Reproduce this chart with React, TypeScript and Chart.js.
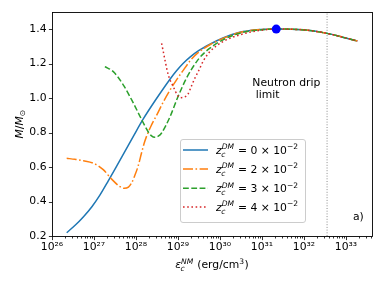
import { useEffect, useRef } from "react";
import { Chart, registerables } from "chart.js";

Chart.register(...registerables);

// ---------- data (log10 of central energy density, M/Msun) ----------
const zValues = ["0", "2", "3", "4"]; // z_c^DM in units of 10^-2
const seriesColors = ["#1f77b4", "#ff7f0e", "#2ca02c", "#d62728"];

const tailLogE = [31.34, 31.66, 32.05, 32.55, 32.92, 33.27];
const tailM = [1.401, 1.4, 1.395, 1.376, 1.354, 1.332];

const z0LogE = [26.35, 26.55, 26.75, 26.95, 27.14, 27.34, 27.54, 27.74, 27.94, 28.17, 28.49, 28.81, 28.97, 29.12, 29.3, 29.5, 29.76, 30.07, 30.47, 30.87, ...tailLogE];
const z0M = [0.219, 0.262, 0.312, 0.37, 0.437, 0.52, 0.606, 0.693, 0.78, 0.878, 0.998, 1.11, 1.16, 1.201, 1.241, 1.277, 1.313, 1.349, 1.382, 1.397, ...tailM];

const z2LogE = [26.35, 26.55, 26.75, 26.99, 27.22, 27.42, 27.62, 27.72, 27.82, 27.9, 27.97, 28.05, 28.13, 28.21, 28.37, 28.49, 28.65, 28.81, 28.97, 29.12, 29.3, 29.5, 29.76, 30.07, 30.47, 30.87, ...tailLogE];
const z2M = [0.651, 0.645, 0.637, 0.622, 0.585, 0.53, 0.486, 0.477, 0.484, 0.51, 0.55, 0.605, 0.68, 0.75, 0.845, 0.9, 0.978, 1.047, 1.108, 1.16, 1.22, 1.268, 1.31, 1.347, 1.381, 1.397, ...tailM];

const z3LogE = [27.26, 27.46, 27.7, 27.94, 28.14, 28.29, 28.37, 28.45, 28.53, 28.61, 28.81, 29.0, 29.2, 29.5, 29.76, 30.07, 30.47, 30.87, ...tailLogE];
const z3M = [1.183, 1.154, 1.076, 0.97, 0.873, 0.805, 0.781, 0.773, 0.779, 0.798, 0.892, 1.008, 1.115, 1.23, 1.29, 1.338, 1.377, 1.394, ...tailM];

const z4LogE = [28.61, 28.65, 28.69, 28.77, 28.89, 29.0, 29.09, 29.17, 29.24, 29.32, 29.4, 29.5, 29.6, 29.76, 30.07, 30.47, 30.87, ...tailLogE];
const z4M = [1.318, 1.27, 1.221, 1.134, 1.066, 1.012, 1.003, 1.008, 1.024, 1.07, 1.115, 1.163, 1.215, 1.27, 1.328, 1.367, 1.39, ...tailM];

const xTickExps = [26, 27, 28, 29, 30, 31, 32, 33];
const yTicks = [0.2, 0.4, 0.6, 0.8, 1.0, 1.2, 1.4];
const xMinExp = 26.0;
const xMaxExp = 33.62;
const yMin = 0.2;
const yMax = 1.5;

const dripLogE = 32.55; // neutron drip energy density
const maxLogE = 31.34; // maximum mass point
const maxM = 1.401;
const noteLogE = 30.77;
const noteM = 1.0;
const noteLines = ["Neutron drip", " limit"];
const panelLabel = "a)";

// ---------- helpers ----------
const FONT = '"DejaVu Sans"';
const FS = 10.8;
const SUP: Record<string, string> = { "0": "⁰", "1": "¹", "2": "²", "3": "³", "4": "⁴", "5": "⁵", "6": "⁶", "7": "⁷", "8": "⁸", "9": "⁹", "-": "⁻" };
const toSup = (s: string) => s.split("").map((c) => SUP[c] ?? c).join("");

type Seg = { t: string; it?: boolean; sup?: string; sub?: string; sit?: boolean };
const fontStr = (size: number, it?: boolean) => `${it ? "italic " : ""}${size}px ${FONT}`;

function rich(ctx: CanvasRenderingContext2D, segs: Seg[], x: number, y: number, size: number, draw: boolean) {
  let cx = x;
  for (const s of segs) {
    ctx.font = fontStr(size, s.it);
    if (draw) ctx.fillText(s.t, cx, y);
    cx += ctx.measureText(s.t).width;
    if (s.sup || s.sub) {
      const ss = size * 0.7;
      ctx.font = fontStr(ss, s.sit);
      let w = 0;
      if (s.sup) {
        if (draw) ctx.fillText(s.sup, cx, y - size * 0.4);
        w = Math.max(w, ctx.measureText(s.sup).width);
      }
      if (s.sub) {
        if (draw) ctx.fillText(s.sub, cx + (s.sit ? -0.5 : 0), y + size * 0.25);
        w = Math.max(w, ctx.measureText(s.sub).width);
      }
      cx += w + 0.5;
    }
  }
  return cx - x;
}

const dashes = [[], [10, 2.5, 1.6, 2.5], [5.8, 2.5], [1.6, 2.6]];

const decorPlugin = {
  id: "decor",
  afterDraw(chart: any) {
    const ctx: CanvasRenderingContext2D = chart.ctx;
    const ca = chart.chartArea;
    const xs = chart.scales.x;
    const ys = chart.scales.y;
    ctx.save();
    // frame
    ctx.strokeStyle = "#000";
    ctx.lineWidth = 0.9;
    ctx.setLineDash([]);
    ctx.strokeRect(Math.round(ca.left) + 0.5, Math.round(ca.top) + 0.5, Math.round(ca.right - ca.left), Math.round(ca.bottom - ca.top));
    // x ticks (major + minor)
    const by = Math.round(ca.bottom) + 0.5;
    ctx.beginPath();
    for (let e = Math.floor(xMinExp); e <= Math.ceil(xMaxExp); e++) {
      for (let k = 1; k <= 9; k++) {
        const lv = e + Math.log10(k);
        if (lv < xMinExp - 1e-9 || lv > xMaxExp) continue;
        const px = Math.round(xs.getPixelForValue(Math.pow(10, lv))) + 0.5;
        ctx.moveTo(px, by);
        ctx.lineTo(px, by + (k === 1 ? 3.6 : 2));
      }
    }
    // y ticks
    const lx = Math.round(ca.left) + 0.5;
    for (const v of yTicks) {
      const py = Math.round(ys.getPixelForValue(v)) + 0.5;
      ctx.moveTo(lx, py);
      ctx.lineTo(lx - 3.6, py);
    }
    ctx.lineWidth = 0.8;
    ctx.stroke();

    ctx.fillStyle = "#000";
    ctx.textBaseline = "alphabetic";
    ctx.textAlign = "left";
    // x axis title
    const xSegs: Seg[] = [{ t: "ε", it: true, sub: "c", sup: "NM", sit: true }, { t: " (erg/cm", sup: "3" }, { t: ")" }];
    const xw = rich(ctx, xSegs, 0, 0, FS, false);
    rich(ctx, xSegs, (ca.left + ca.right) / 2 - xw / 2, ca.bottom + 32, FS, true);
    // y axis title
    const ySegs: Seg[] = [{ t: "M", it: true }, { t: "/" }, { t: "M", it: true, sub: "⊙" }];
    const yw = rich(ctx, ySegs, 0, 0, FS, false);
    ctx.save();
    ctx.translate(22.5, (ca.top + ca.bottom) / 2);
    ctx.rotate(-Math.PI / 2);
    rich(ctx, ySegs, -yw / 2, 0, FS, true);
    ctx.restore();

    // annotation
    ctx.font = fontStr(FS);
    const nx = xs.getPixelForValue(Math.pow(10, noteLogE));
    const ny = ys.getPixelForValue(noteM);
    noteLines.forEach((ln, i) => {
      ctx.fillText(ln, nx, ny - (noteLines.length - 1 - i) * 11.8);
    });
    // panel label
    ctx.fillText(panelLabel, ca.right - 19, ca.bottom - 16.5);

    // legend
    const L = 180.5, T = 139.5, W = 125, H = 83;
    ctx.beginPath();
    ctx.roundRect(L, T, W, H, 2.5);
    ctx.fillStyle = "rgba(255,255,255,0.8)";
    ctx.fill();
    ctx.strokeStyle = "#cccccc";
    ctx.lineWidth = 1;
    ctx.stroke();
    const rows = [150, 169, 188.3, 207];
    zValues.forEach((z, i) => {
      const ry = rows[i];
      ctx.beginPath();
      ctx.setLineDash(dashes[i]);
      ctx.strokeStyle = seriesColors[i];
      ctx.lineWidth = 1.5;
      ctx.moveTo(183, ry);
      ctx.lineTo(208, ry);
      ctx.stroke();
      ctx.setLineDash([]);
      ctx.fillStyle = "#000";
      rich(ctx, [{ t: "z", it: true, sub: "c", sup: "DM", sit: true }, { t: " = " + z + " × 10", sup: "−2" }], 216, ry + 3.8, FS, true);
    });
    ctx.restore();
  },
};

export default function App() {
  const ref = useRef<HTMLCanvasElement | null>(null);
  useEffect(() => {
    if (!ref.current) return;
    const curves = [
      { e: z0LogE, m: z0M },
      { e: z2LogE, m: z2M },
      { e: z3LogE, m: z3M },
      { e: z4LogE, m: z4M },
    ];
    const datasets: any[] = curves.map((c, i) => ({
      type: "line",
      label: `z_c^DM = ${zValues[i]} × 10^-2`,
      data: c.e.map((e, j) => ({ x: Math.pow(10, e), y: c.m[j] })),
      borderColor: seriesColors[i],
      borderWidth: 1.5,
      borderDash: dashes[i],
      pointRadius: 0,
      fill: false,
      cubicInterpolationMode: "monotone",
      order: 4 - i,
    }));
    datasets.push({
      type: "line",
      label: "Neutron drip limit",
      data: [
        { x: Math.pow(10, dripLogE), y: yMin },
        { x: Math.pow(10, dripLogE), y: yMax },
      ],
      borderColor: "#8c8c8c",
      borderWidth: 1,
      borderDash: [1, 1.7],
      pointRadius: 0,
      order: 10,
    });
    datasets.push({
      type: "scatter",
      label: "Maximum mass",
      data: [{ x: Math.pow(10, maxLogE), y: maxM }],
      backgroundColor: "#0000ff",
      borderWidth: 0,
      pointRadius: 4.5,
      order: -1,
    });
    const chart = new Chart(ref.current, {
      type: "line",
      data: { datasets },
      plugins: [decorPlugin],
      options: {
        animation: false,
        responsive: false,
        devicePixelRatio: 1,
        layout: { padding: { top: 12, right: 12, left: 0, bottom: 0 } },
        plugins: { legend: { display: false }, tooltip: { enabled: false } },
        scales: {
          x: {
            type: "logarithmic",
            min: Math.pow(10, xMinExp),
            max: Math.pow(10, xMaxExp),
            grid: { display: false, drawTicks: true, tickLength: 4 },
            border: { display: false },
            afterBuildTicks: (s: any) => {
              s.ticks = xTickExps.map((e) => ({ value: Math.pow(10, e), major: true }));
            },
            afterFit: (s: any) => {
              s.height = 52;
            },
            ticks: {
              autoSkip: false,
              maxRotation: 0,
              padding: 1,
              color: "#000",
              font: { family: "DejaVu Sans", size: FS },
              callback: (v: any) => "10" + toSup(String(Math.round(Math.log10(Number(v))))),
            },
          },
          y: {
            type: "linear",
            min: yMin,
            max: yMax,
            grid: { display: false, drawTicks: true, tickLength: 4 },
            border: { display: false },
            afterBuildTicks: (s: any) => {
              s.ticks = yTicks.map((v) => ({ value: v }));
            },
            afterFit: (s: any) => {
              s.width = 52;
            },
            ticks: {
              padding: 1.5,
              color: "#000",
              font: { family: "DejaVu Sans", size: FS },
              callback: (v: any) => Number(v).toFixed(1),
            },
          },
        },
      } as any,
    });
    return () => chart.destroy();
  }, []);
  return (
    <div style={{ position: "fixed", left: 0, top: 0, width: 384, height: 288, background: "#fff" }}>
      <canvas ref={ref} width={384} height={288} style={{ width: 384, height: 288 }} />
    </div>
  );
}
